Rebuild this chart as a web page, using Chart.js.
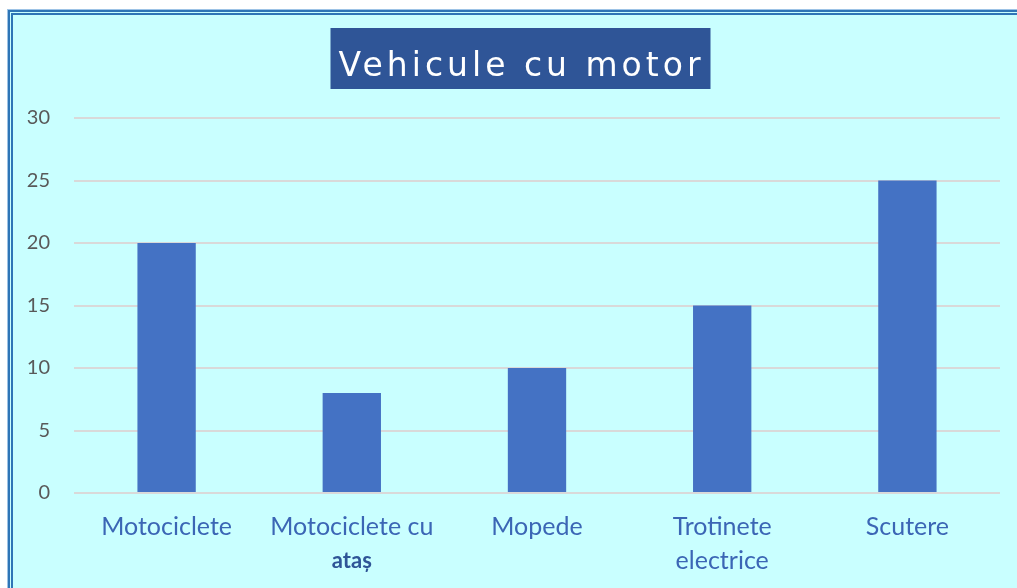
<!DOCTYPE html>
<html><head><meta charset="utf-8">
<script src="https://cdn.jsdelivr.net/npm/chart.js@4"></script>
<style>
html,body{margin:0;padding:0;background:#fff;width:1017px;height:588px;overflow:hidden;}
#frame{position:absolute;left:8px;top:10px;width:1040px;height:600px;background:#C9FFFF;
 border-left:5px double #2E75B6;border-top:5px double #2E75B6;box-shadow:-1px -1px 0 #9DC3E6;}
#wrap{position:absolute;left:13px;top:15px;width:1013px;height:573px;}
</style></head><body>
<div id="frame"></div>
<div id="wrap"><canvas id="c" width="1013" height="573"></canvas></div>
<script>
const categories = [["Motociclete"], ["Motociclete cu", "ataș"], ["Mopede"], ["Trotinete", "electrice"], ["Scutere"]];
const values = [20, 8, 10, 15, 25];
const yTicks = [0, 5, 10, 15, 20, 25, 30];
const titleText = "Vehicule cu motor";

const titleBox = {
  id: 'titleBox',
  afterDraw(chart) {
    const ctx = chart.ctx;
    ctx.save();
    ctx.font = '33px "DejaVu Sans"';
    ctx.letterSpacing = '4px';
    const w = ctx.measureText(titleText).width;
    const cx = chart.width / 2 + 2;
    const cy = 43.5;
    ctx.fillStyle = '#2F5597';
    ctx.fillRect(cx - w / 2 - 8, cy - 30.5, w + 14, 61);
    ctx.fillStyle = '#FFFFFF';
    ctx.textAlign = 'center';
    ctx.textBaseline = 'alphabetic';
    ctx.fillText(titleText, cx, cy + 17);
    ctx.restore();
  }
};
const xLabels = {
  id: 'xLabels',
  afterDraw(chart) {
    const ctx = chart.ctx;
    const xs = chart.scales.x;
    ctx.save();
    ctx.textAlign = 'center';
    ctx.textBaseline = 'middle';
    categories.forEach((lines, i) => {
      const x = xs.getPixelForTick(i);
      lines.forEach((ln, j) => {
        const y = chart.chartArea.bottom + 34 + j * 34;
        if (i === 1 && j === 1) {
          ctx.font = 'bold 22px Lato';
          ctx.fillStyle = '#2F5597';
        } else {
          ctx.font = '25px Lato';
          ctx.fillStyle = '#3B66B5';
        }
        ctx.fillText(ln, x, y);
      });
    });
    ctx.restore();
  }
};

new Chart(document.getElementById('c'), {
  type: 'bar',
  data: {
    labels: categories,
    datasets: [{ data: values, backgroundColor: '#4472C4', borderWidth: 0,
      barPercentage: 0.63, categoryPercentage: 0.5 }]
  },
  options: {
    responsive: false, animation: false,
    layout: { padding: { left: 0, right: 26, top: 103, bottom: 0 } },
    plugins: {
      legend: { display: false }, tooltip: { enabled: false },
      title: { display: false }
    },
    scales: {
      x: {
        grid: { display: false, drawTicks: false },
        border: { display: false },
        afterFit: (ax) => { ax.height = 95; },
        ticks: { color: 'transparent', font: { family: 'Lato', size: 25 }, padding: 20,
          callback: (v, i) => categories[i], maxRotation: 0, autoSkip: false }
      },
      y: {
        min: 0, max: 30,
        afterBuildTicks: (ax) => { ax.ticks = yTicks.map(v => ({ value: v })); },
        afterFit: (ax) => { ax.width = 61; },
        grid: { color: '#D9D9D9', lineWidth: 2, drawTicks: false },
        border: { display: false },
        ticks: { color: '#595959', font: { family: 'Lato', size: 20 }, padding: 24 }
      }
    }
  },
  plugins: [titleBox, xLabels]
});
</script>
</body></html>
